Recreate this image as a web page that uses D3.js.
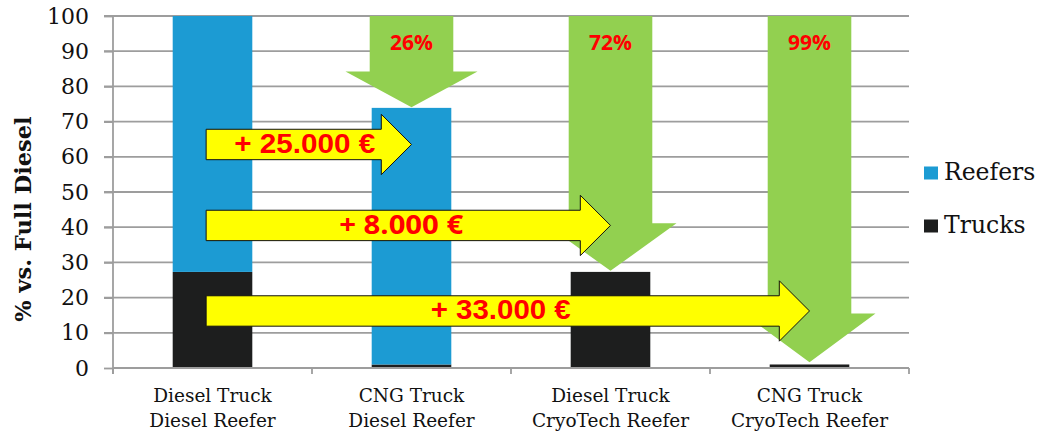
<!DOCTYPE html>
<html>
<head>
<meta charset="utf-8">
<script src="https://cdn.jsdelivr.net/npm/d3@7"></script>
<style>
  html, body { margin: 0; padding: 0; background: #fff; }
  svg { display: block; }
</style>
</head>
<body>
<svg id="chart" width="1039" height="434"></svg>
<script>
// ---- Data ----
const categories = [
  ["Diesel Truck", "Diesel Reefer"],
  ["CNG Truck", "Diesel Reefer"],
  ["Diesel Truck", "CryoTech Reefer"],
  ["CNG Truck", "CryoTech Reefer"]
];
const seriesNames = ["Trucks", "Reefers"];
const trucks = [27.3, 1, 27.3, 1];
const reefers = [72.7, 72.9, 0, 0];
const yTicks = [0, 10, 20, 30, 40, 50, 60, 70, 80, 90, 100];
const yTitle = "% vs. Full Diesel";

// savings arrows (green, pointing down)
const savingsLabels = ["26%", "72%", "99%"];
const savingsCategory = [1, 2, 3];
const savingsTip = [74.1, 27.6, 1.6];
const savingsHeadBase = [84.2, 41.1, 15.5];

// extra cost arrows (yellow, pointing right)
const costLabels = ["+ 25.000 €", "+ 8.000 €", "+ 33.000 €"];
const costTargetCategory = [1, 2, 3];
const costLevel = [63.5, 40.5, 16.2];

// ---- Layout ----
const W = 1039, H = 434;
const margin = { left: 113, right: 130, top: 16, bottom: 66 };
const iw = W - margin.left - margin.right;
const ih = H - margin.top - margin.bottom;

const colors = { Trucks: "#1d1e1e", Reefers: "#1c9bd3" };
const serif = "'DejaVu Serif', 'Liberation Serif', serif";

const svg = d3.select("#chart");
const g = svg.append("g").attr("transform", `translate(${margin.left},${margin.top})`);

const x = d3.scaleBand().domain(d3.range(categories.length)).range([0, iw])
  .paddingInner(0.6).paddingOuter(0.3);
const y = d3.scaleLinear().domain([0, 100]).range([ih, 0]);
const xc = i => x(i) + x.bandwidth() / 2;
const step = x.step();

// gridlines
g.append("g").selectAll("line").data(yTicks.filter(t => t > 0)).join("line")
  .attr("x1", -9).attr("x2", iw)
  .attr("y1", d => y(d)).attr("y2", d => y(d))
  .attr("stroke", "#9d9d9d").attr("stroke-width", 1.8);

// y axis
const yAxis = g.append("g").call(d3.axisLeft(y).tickValues(yTicks).tickSize(9).tickPadding(15));
yAxis.select(".domain").remove();
yAxis.selectAll(".tick line").attr("stroke", "#9d9d9d").attr("stroke-width", 1.8);
yAxis.selectAll(".tick text").attr("font-family", serif).attr("font-size", 22).attr("fill", "#111");
g.append("line").attr("x1", 0).attr("x2", 0).attr("y1", 0).attr("y2", ih + 6)
  .attr("stroke", "#9d9d9d").attr("stroke-width", 1.8);

// bars (stacked)
const stackData = categories.map((c, i) => ({ i, Trucks: trucks[i], Reefers: reefers[i] }));
const stack = d3.stack().keys(seriesNames)(stackData);
g.append("g").selectAll("g").data(stack).join("g")
  .attr("fill", d => colors[d.key])
  .selectAll("rect").data(d => d.filter(v => v[1] - v[0] > 0)).join("rect")
  .attr("x", d => x(d.data.i)).attr("width", x.bandwidth())
  .attr("y", d => y(d[1])).attr("height", d => y(d[0]) - y(d[1]));

// x axis
g.append("line").attr("x1", 0).attr("x2", iw).attr("y1", ih).attr("y2", ih)
  .attr("stroke", "#9d9d9d").attr("stroke-width", 1.8);
g.append("g").selectAll("line").data(d3.range(categories.length + 1)).join("line")
  .attr("x1", d => d * step).attr("x2", d => d * step)
  .attr("y1", ih).attr("y2", ih + 6)
  .attr("stroke", "#9d9d9d").attr("stroke-width", 1.8);
const xl = g.append("g").selectAll("text").data(categories).join("text")
  .attr("x", (d, i) => xc(i)).attr("y", ih + 34)
  .attr("text-anchor", "middle").attr("font-family", serif).attr("font-size", 18.5).attr("fill", "#111");
xl.append("tspan").attr("x", (d, i) => xc(i)).attr("dy", 0).text(d => d[0]);
xl.append("tspan").attr("x", (d, i) => xc(i)).attr("dy", 25).text(d => d[1]);

// y title
svg.append("text")
  .attr("transform", `translate(31,${margin.top + ih * 0.577}) rotate(-90)`)
  .attr("text-anchor", "middle").attr("font-family", serif).attr("font-weight", "bold")
  .attr("font-size", 22.5).attr("fill", "#111").text(yTitle);

// green savings arrows
const shaftHalf = x.bandwidth() / 2 + 2;
const headHalf = 66;
savingsLabels.forEach((lab, k) => {
  const cx = xc(savingsCategory[k]);
  const yTop = y(100), yb = y(savingsHeadBase[k]), yt = y(savingsTip[k]);
  const pts = [
    [cx - shaftHalf, yTop], [cx + shaftHalf, yTop], [cx + shaftHalf, yb],
    [cx + headHalf, yb], [cx, yt], [cx - headHalf, yb], [cx - shaftHalf, yb]
  ];
  g.append("path").attr("d", d3.line()(pts) + "Z").attr("fill", "#92d050");
  g.append("text").attr("x", cx).attr("y", y(100) + 28)
    .attr("dominant-baseline", "middle").attr("text-anchor", "middle")
    .attr("font-family", "'Open Sans', 'Liberation Sans', sans-serif").attr("font-weight", "bold")
    .attr("font-size", 21).attr("fill", "#ff0000").text(lab);
});

// yellow cost arrows
const startX = x(0) + x.bandwidth() * 0.42;
const bodyHalf = 15.2, yHeadHalf = 30.2, yHeadLen = 30.2;
const costTextLen = [141, 124, 140];
const costFonts = ["'Liberation Sans', Arial, sans-serif", "'Open Sans', sans-serif", "'Liberation Sans Narrow', 'Liberation Sans', sans-serif"];
costLabels.forEach((lab, k) => {
  const tipX = xc(costTargetCategory[k]);
  const cy = y(costLevel[k]);
  const hx = tipX - yHeadLen;
  const pts = [
    [startX, cy - bodyHalf], [hx, cy - bodyHalf], [hx, cy - yHeadHalf], [tipX, cy],
    [hx, cy + yHeadHalf], [hx, cy + bodyHalf], [startX, cy + bodyHalf]
  ];
  g.append("path").attr("d", d3.line()(pts) + "Z")
    .attr("fill", "#ffff00").attr("stroke", "#111").attr("stroke-width", 1);
  g.append("text").attr("x", (startX + hx) / 2 + (k === 0 ? 11 : 8)).attr("y", cy + 1)
    .attr("dominant-baseline", "middle").attr("text-anchor", "middle")
    .attr("font-family", costFonts[k]).attr("font-weight", "bold")
    .attr("font-size", 27).attr("fill", "#ff0000")
    .attr("textLength", costTextLen[k]).attr("lengthAdjust", "spacingAndGlyphs")
    .text(lab);
});

// legend
const legend = svg.append("g").attr("transform", `translate(${margin.left + iw + 15},0)`);
const legendItems = ["Reefers", "Trucks"];
const legendY = [173, 226];
legendItems.forEach((name, k) => {
  legend.append("rect").attr("x", 0).attr("y", legendY[k] - 6.5).attr("width", 14).attr("height", 13)
    .attr("fill", colors[name]);
  legend.append("text").attr("x", 20).attr("y", legendY[k])
    .attr("dominant-baseline", "middle").attr("font-family", serif)
    .attr("font-size", 23.5).attr("fill", "#111").text(name);
});
</script>
</body>
</html>
